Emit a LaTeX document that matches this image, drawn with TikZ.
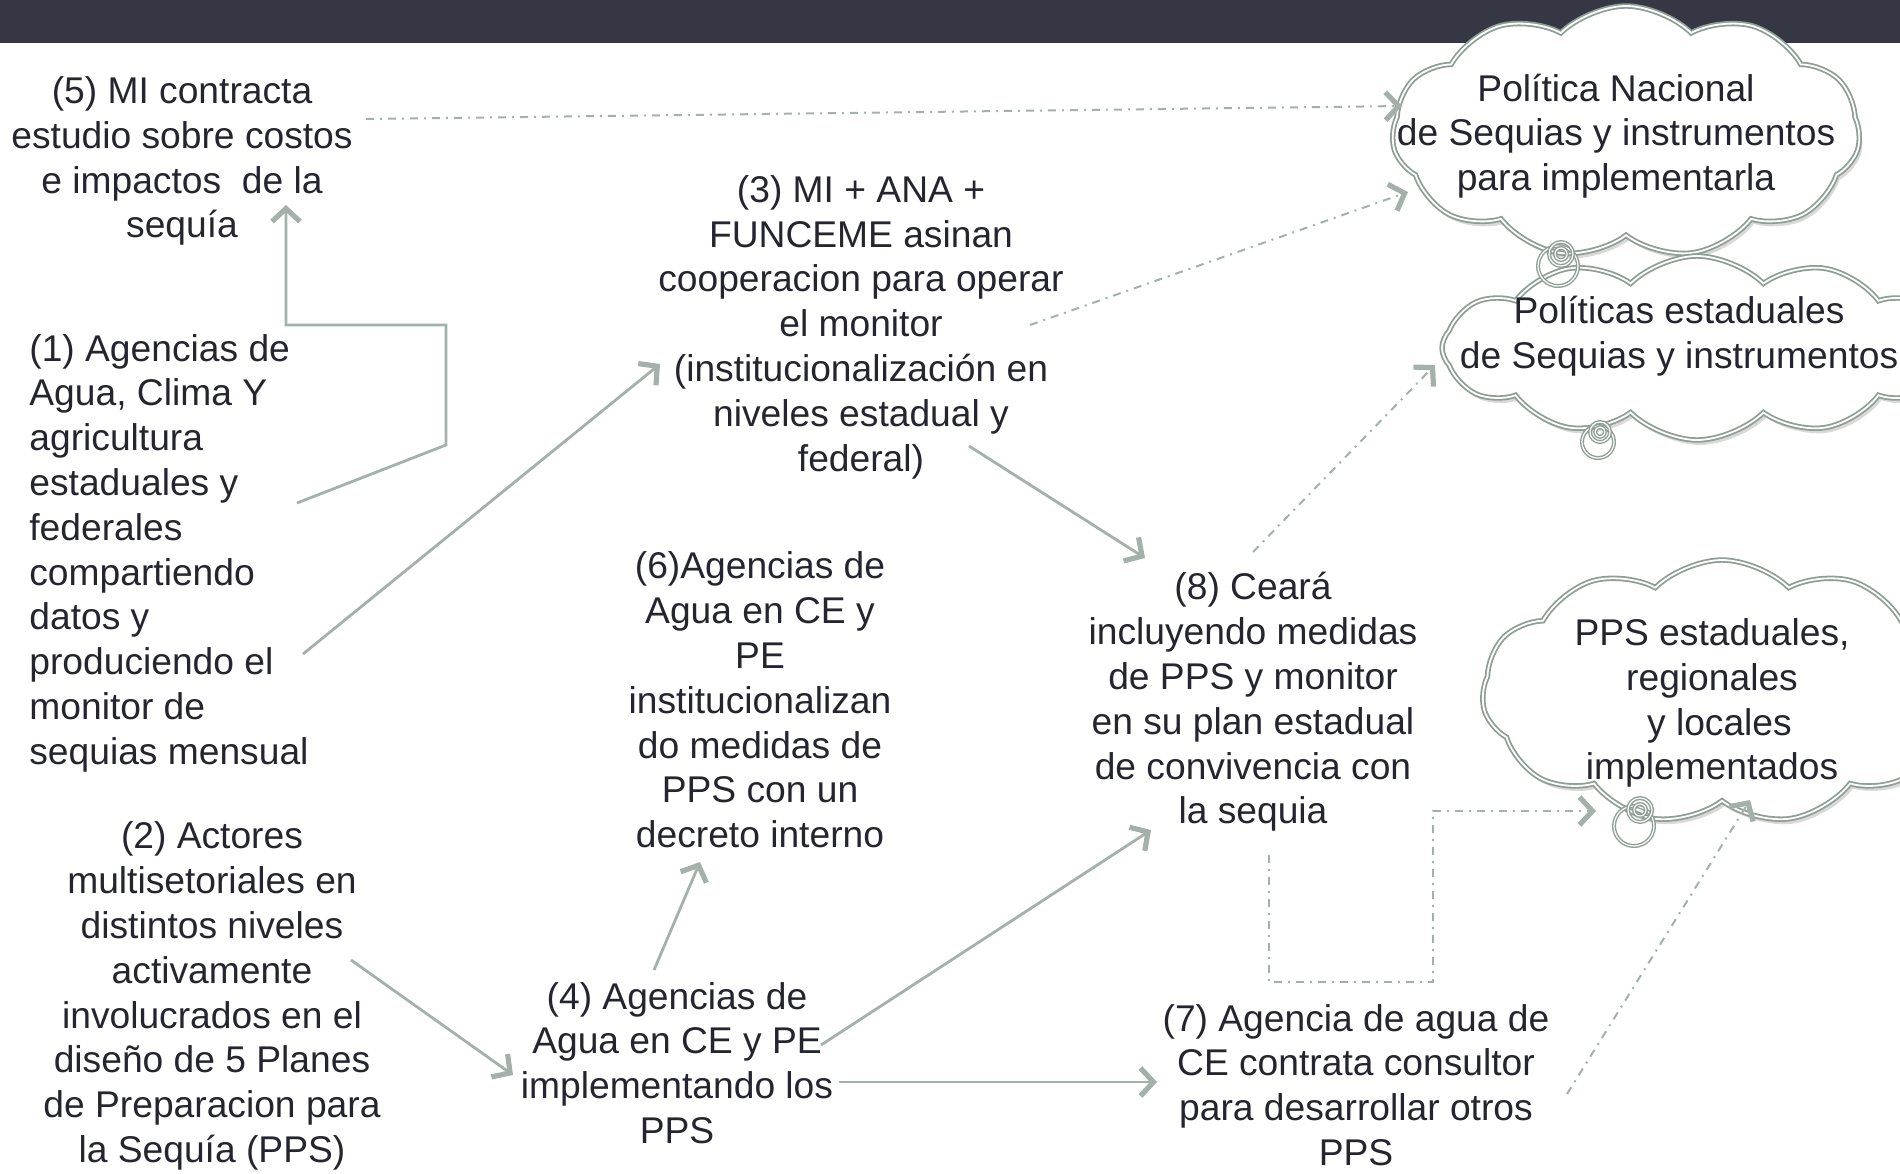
\documentclass[tikz,border=0pt]{standalone}
\usepackage{fontspec}
\setmainfont{Liberation Sans}
\usetikzlibrary{arrows.meta,shapes.symbols,shadows}
\definecolor{barcol}{HTML}{353744}
\definecolor{ink}{HTML}{25252F}
\definecolor{conn}{HTML}{A3B1AA}
\definecolor{cloudln}{HTML}{8E9E95}
\tikzset{
 txt/.style={font=\fontsize{18.6pt}{22.4pt}\selectfont, text=ink, align=center, inner sep=0pt, yshift=-2pt},
 tipsty/.style={-{Straight Barb[length=6.5pt,width=14pt,line width=2.6pt]}},
 solidarrow/.style={draw=conn, line width=1.4pt, tipsty},
 dasharrow/.style={draw=conn, line width=1pt, dash pattern=on 4pt off 3pt on 1pt off 3pt, tipsty},
 cloudsh/.style={cloud, cloud puffs=11, cloud puff arc=90, cloud ignores aspect, draw=cloudln, double=white, double distance=0.9pt, line width=0.9pt, fill=white, drop shadow={opacity=0.3, shadow xshift=1.5pt, shadow yshift=-2.5pt}, inner sep=0pt},
 spir/.style={draw=cloudln, double=white, double distance=0.6pt, line width=0.7pt},
}
\begin{document}
\begin{tikzpicture}[x=0.5pt,y=-0.5pt]
\useasboundingbox (0,0) rectangle (1900,1173);
\clip (0,0) rectangle (1900,1173);
\fill[barcol] (0,0) rectangle (1900,43);

% clouds
\node[cloudsh, minimum width=234pt, minimum height=126pt] (cl1) at (1626,132) {};
\node[cloudsh, cloud puffs=12, minimum width=255pt, minimum height=92pt] (cl2) at (1697,348) {};
\node[cloudsh, minimum width=240pt, minimum height=132pt] (cl3) at (1722,692) {};
% thought-bubble tails
\draw[spir] (1558,266) circle (10pt);
\draw[spir] (1561,254) circle (6pt);
\draw[spir] (1561,254) circle (3pt);
\draw[spir] (1598,442) circle (8pt);
\draw[spir] (1600,432) circle (5pt);
\draw[spir] (1600,432) circle (2.5pt);
\draw[spir] (1634,826) circle (10pt);
\draw[spir] (1640,810) circle (6pt);
\draw[spir] (1640,810) circle (3pt);

\node[txt] (cl1t) at (1616,132) {Política Nacional\\de Sequias y instrumentos\\para implementarla};
\node[txt] (cl2t) at (1679,332) {Políticas estaduales\\de Sequias y instrumentos};
\node[txt] (cl3t) at (1712,699) {PPS estaduales,\\regionales\\\hspace{0.4em}y locales\\implementados};

% text nodes
\node[txt] (n5) at (182,157) {(5) MI contracta\\estudio sobre costos\\e impactos\ \ de la\\sequía};
\node[txt, align=left, anchor=west] (n1) at (29,549) {(1) Agencias de\\Agua, Clima Y\\agricultura\\estaduales y\\federales\\compartiendo\\datos y\\produciendo el\\monitor de\\sequias mensual};
\node[txt] (n2) at (212,992) {(2) Actores\\multisetoriales en\\distintos niveles\\activamente\\involucrados en el\\diseño de 5 Planes\\de Preparacion para\\la Sequía (PPS)};
\node[txt] (n3) at (861,323) {(3) MI + ANA +\\FUNCEME asinan\\cooperacion para operar\\el monitor\\(institucionalización en\\niveles estadual y\\federal)};
\node[txt] (n6) at (760,696) {(6)Agencias de\\Agua en CE y\\PE\\institucionalizan\\do medidas de\\PPS con un\\decreto interno};
\node[txt] (n4) at (677,1059) {(4) Agencias de\\Agua en CE y PE\\implementando los\\PPS};
\node[txt] (n8) at (1253,698) {(8) Ceará\\incluyendo medidas\\de PPS y monitor\\en su plan estadual\\de convivencia con\\la sequia};
\node[txt] (n7) at (1356,1081) {(7) Agencia de agua de\\CE contrata consultor\\para desarrollar otros\\PPS};

% connector end points
\coordinate (a5s) at (366,119);  \coordinate (a5e) at (1402,106);
\coordinate (a3s) at (1030,325); \coordinate (a3e) at (1408,192);
\coordinate (a1s) at (297,503);  \coordinate (a1e) at (286,205);
\coordinate (b1s) at (303,654);  \coordinate (b1e) at (660,364);
\coordinate (b3s) at (969,446);  \coordinate (b3e) at (1145,558);
\coordinate (a8s) at (1253,552); \coordinate (a8e) at (1435,365);
\coordinate (a2s) at (351,960);  \coordinate (a2e) at (513,1075);
\coordinate (a4s) at (654,970);  \coordinate (a4e) at (700,862);
\coordinate (b4s) at (821,1045); \coordinate (b4e) at (1151,830);
\coordinate (c4s) at (839,1082); \coordinate (c4e) at (1157,1082);
\coordinate (b8s) at (1269,855); \coordinate (b8e) at (1596,811);
\coordinate (a7s) at (1567,1094); \coordinate (a7e) at (1750,800);

% connectors
\draw[dasharrow] (a5s) -- (a5e);
\draw[dasharrow] (a3s) -- (a3e);
\draw[solidarrow] (a1s) -- (446,445) -- (446,325) -- (286,325) -- (a1e);
\draw[solidarrow] (b1s) -- (b1e);
\draw[solidarrow] (b3s) -- (b3e);
\draw[dasharrow] (a8s) -- (a8e);
\draw[solidarrow] (a2s) -- (a2e);
\draw[solidarrow] (a4s) -- (a4e);
\draw[solidarrow] (b4s) -- (b4e);
\draw[solidarrow] (c4s) -- (c4e);
\draw[dasharrow] (b8s) -- (1269,982) -- (1433,982) -- (1433,811) -- (b8e);
\draw[dasharrow] (a7s) -- (a7e);
\end{tikzpicture}
\end{document}
